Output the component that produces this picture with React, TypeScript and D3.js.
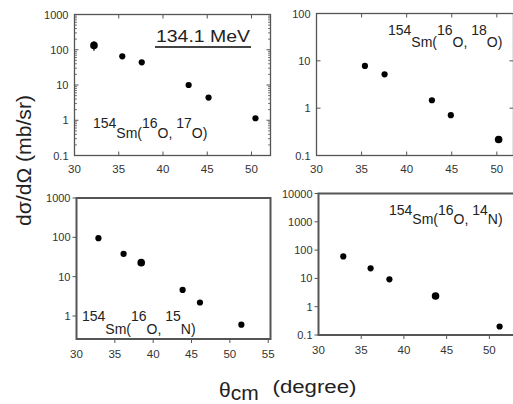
import React from "react";
import * as d3 from "d3";

// ---- data ----
const angles17O = [32.2, 35.4, 37.6, 42.9, 45.15, 50.45];
const sigma17O = [133, 65, 44, 10, 4.4, 1.14];
const err17O = [40, 0, 0, 0, 0, 0];

const angles18O = [35.37, 37.55, 42.8, 44.9, 50.2];
const sigma18O = [7.8, 5.2, 1.47, 0.71, 0.217];

const angles15N = [32.86, 36.14, 38.44, 43.84, 46.1, 51.5];
const sigma15N = [95, 38, 22.7, 4.6, 2.2, 0.6];

const angles14N = [32.9, 36.1, 38.3, 43.7, 51.2];
const sigma14N = [60, 22.7, 9.3, 2.4, 0.2];

const xTicks = [30, 35, 40, 45, 50];
const xTicks55 = [30, 35, 40, 45, 50, 55];
const yTicks1000 = [0.1, 1, 10, 100, 1000];
const yTicks100 = [0.1, 1, 10, 100];
const yTicks15N = [1, 10, 100, 1000];
const yTicks10000 = [0.1, 1, 10, 100, 1000, 10000];

const energyLabel = "134.1 MeV";
const products = ["17", "18", "15", "14"];
const productEls = ["O", "O", "N", "N"];

// ---- layout ----
const W = 513, H = 404;
const FONT = "Liberation Sans, Arial, sans-serif";

type PanelCfg = {
  left: number; right: number; top: number; bottom: number;
  xDom: [number, number]; yDom: [number, number];
  xt: number[]; yt: number[];
  inside: boolean; minor: boolean; frameW: number;
  xs: number[]; ys: number[]; errs?: number[];
  big?: number[];
  label: { x: number; y: number; dy: number; idx: number };
};

const panels: PanelCfg[] = [
  {
    left: 74.5, right: 270.5, top: 14.5, bottom: 155.5,
    xDom: [30, 52.15], yDom: [0.1, 1000], xt: xTicks, yt: yTicks1000,
    inside: true, minor: true, frameW: 1.3,
    xs: angles17O, ys: sigma17O, errs: err17O, big: [0],
    label: { x: 93, y: 128, dy: 9.5, idx: 0 },
  },
  {
    left: 316.5, right: 513.5, top: 13.5, bottom: 155.5,
    xDom: [30, 51.85], yDom: [0.1, 100], xt: xTicks, yt: yTicks100,
    inside: true, minor: false, frameW: 1.3,
    xs: angles18O, ys: sigma18O, big: [4],
    label: { x: 388, y: 35, dy: 12, idx: 1 },
  },
  {
    left: 76.5, right: 270.5, top: 198, bottom: 339,
    xDom: [30, 55.3], yDom: [0.26, 1000], xt: xTicks55, yt: yTicks15N,
    inside: false, minor: false, frameW: 2,
    xs: angles15N, ys: sigma15N, big: [2],
    label: { x: 82, y: 321, dy: 12.5, idx: 2 },
  },
  {
    left: 318.5, right: 515, top: 193.5, bottom: 335,
    xDom: [30, 53], yDom: [0.1, 10000], xt: xTicks, yt: yTicks10000,
    inside: false, minor: false, frameW: 2,
    xs: angles14N, ys: sigma14N, big: [3],
    label: { x: 389, y: 215, dy: 9, idx: 3 },
  },
];

function fmt(v: number) {
  return v < 1 ? String(v) : d3.format("d")(v);
}

// approximate Arial advance widths (em) for the reaction label pieces
const pieceEm = [1.668, 1.833, 1.112, 1.334, 1.112, 1.111];

function Reaction({ x, y, dy, idx }: { x: number; y: number; dy: number; idx: number }) {
  const fs = 14;
  const pieces = ["154", "Sm(", "16", "O,", products[idx], productEls[idx] + ")"];
  const shifts = [0, dy, 0, dy, 0, dy];
  let cx = x;
  const xs: number[] = [];
  pieceEm.forEach((w) => {
    xs.push(cx);
    cx += w * fs;
  });
  return (
    <g>
      {pieces.map((t, i) => (
        <text key={i} x={xs[i]} y={y + shifts[i]} fontFamily={FONT} fontSize={fs} fill="#222">
          {t}
        </text>
      ))}
    </g>
  );
}

function Panel({ p }: { p: PanelCfg }) {
  const x = d3.scaleLinear().domain(p.xDom).range([p.left, p.right]);
  const y = d3.scaleLog().domain(p.yDom).range([p.bottom, p.top]);
  const dir = p.inside ? 1 : -1;
  const majLen = 4;
  const minLen = 2.5;
  const stroke = "#555";
  const minors: number[] = [];
  if (p.minor) {
    const lo = Math.floor(Math.log10(p.yDom[0]));
    const hi = Math.ceil(Math.log10(p.yDom[1]));
    for (let e = lo; e < hi; e++) {
      for (let k = 2; k <= 9; k++) {
        const v = k * Math.pow(10, e);
        if (v > p.yDom[0] && v < p.yDom[1]) minors.push(v);
      }
    }
  }
  return (
    <g>
      <rect x={p.left} y={p.top} width={p.right - p.left} height={p.bottom - p.top}
        fill="none" stroke={stroke} strokeWidth={p.frameW} />
      {p.xt.map((t) => (
        <g key={"x" + t}>
          {t > p.xDom[0] && t < p.xDom[1] && (
            <line x1={x(t)} x2={x(t)} y1={p.bottom} y2={p.bottom - dir * majLen} stroke={stroke} strokeWidth={1} />
          )}
          {p.inside && t > p.xDom[0] && t < p.xDom[1] && (
            <line x1={x(t)} x2={x(t)} y1={p.top} y2={p.top + majLen} stroke={stroke} strokeWidth={1} />
          )}
          <text x={x(t)} y={p.bottom + (p.inside ? 17.5 : 19)} textAnchor="middle"
            fontFamily={FONT} fontSize={11.5} fill="#333">{t}</text>
        </g>
      ))}
      {p.yt.map((t) => (
        <g key={"y" + t}>
          <line x1={p.left} x2={p.left + dir * majLen} y1={y(t)} y2={y(t)} stroke={stroke} strokeWidth={1} />
          {p.inside && (
            <line x1={p.right} x2={p.right - majLen} y1={y(t)} y2={y(t)} stroke={stroke} strokeWidth={1} />
          )}
          <text x={p.left - 6} y={y(t) + 4} textAnchor="end"
            fontFamily={FONT} fontSize={11} fill="#333">{fmt(t)}</text>
        </g>
      ))}
      {minors.map((t) => (
        <g key={"m" + t}>
          <line x1={p.left} x2={p.left + minLen} y1={y(t)} y2={y(t)} stroke={stroke} strokeWidth={0.8} />
          <line x1={p.right} x2={p.right - minLen} y1={y(t)} y2={y(t)} stroke={stroke} strokeWidth={0.8} />
        </g>
      ))}
      {p.xs.map((xv, i) => {
        const e = p.errs ? p.errs[i] : 0;
        const r = p.big && p.big.includes(i) ? 3.8 : 3.1;
        return (
          <g key={"p" + i}>
            {e > 0 && (
              <line x1={x(xv)} x2={x(xv)} y1={y(p.ys[i] - e)} y2={y(p.ys[i] + e)} stroke="#000" strokeWidth={1.2} />
            )}
            <circle cx={x(xv)} cy={y(p.ys[i])} r={r} fill="#000" />
          </g>
        );
      })}
      <Reaction {...p.label} />
    </g>
  );
}

export default function App() {
  return (
    <svg width={W} height={H} style={{ position: "absolute", left: 0, top: 0, background: "#fff" }}>
      <rect x={0} y={0} width={W} height={H} fill="#fff" />
      {panels.map((p, i) => (
        <Panel key={i} p={p} />
      ))}
      <text x={156} y={42} fontFamily={FONT} fontSize={17} fill="#222" textLength={94} lengthAdjust="spacingAndGlyphs">
        {energyLabel}
      </text>
      <line x1={155} x2={251} y1={47} y2={47} stroke="#444" strokeWidth={2} />
      <text transform="translate(31,160.5) rotate(-90)" textAnchor="middle"
        fontFamily={FONT} fontSize={19.5} fill="#222" textLength={131} lengthAdjust="spacingAndGlyphs">
        dσ/dΩ  (mb/sr)
      </text>
      <text x={219} y={396.5} fontFamily={FONT} fontSize={21} fill="#222">
        θ<tspan y={399.5}>cm</tspan>
      </text>
      <text x={272.5} y={393} fontFamily={FONT} fontSize={18} fill="#222" textLength={84} lengthAdjust="spacingAndGlyphs">
        (degree)
      </text>
    </svg>
  );
}
